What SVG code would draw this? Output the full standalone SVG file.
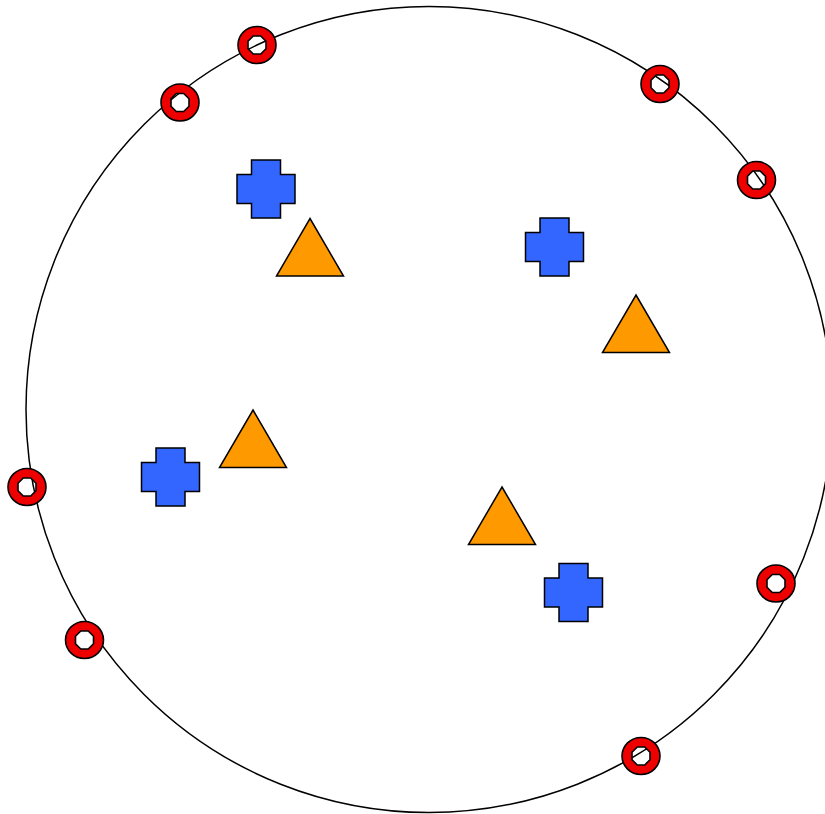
<svg xmlns="http://www.w3.org/2000/svg" width="825" height="814" viewBox="0 0 825 814">
<defs>
<style>
.boundary{fill:none;stroke:#000;stroke-width:1.5}
.cross{fill:#3366ff;stroke:#000;stroke-width:1.5}
.tri{fill:#ff9900;stroke:#000;stroke-width:1.5}
.ring{fill:#ee0000;stroke:#000;stroke-width:1.6;fill-rule:evenodd}
</style>
<path id="crossShape" class="cross" d="M-14.5,-29 H14.5 V-14.5 H29 V14.5 H14.5 V29 H-14.5 V14.5 H-29 V-14.5 H-14.5 Z"/>
<path id="triShape" class="tri" d="M0,0 L33.5,57.5 L-33.5,57.5 Z"/>
<path id="ringShape" class="ring" d="M-19,0 A19,18.5 0 1 0 19,0 A19,18.5 0 1 0 -19,0 Z M-3.7,-9 L3.7,-9 L9,-3.7 L9,3.7 L3.7,9 L-3.7,9 L-9,3.7 L-9,-3.7 Z"/>
</defs>
<rect width="825" height="814" fill="#fff"/>
<g id="connectors">
<circle class="boundary" cx="429" cy="409.5" r="403"/>
</g>
<g id="cross1"><use href="#crossShape" x="266" y="189"/></g>
<g id="cross2"><use href="#crossShape" x="554.5" y="247"/></g>
<g id="cross3"><use href="#crossShape" x="170.5" y="477"/></g>
<g id="cross4"><use href="#crossShape" x="573.5" y="592.5"/></g>
<g id="tri1"><use href="#triShape" x="310" y="218.5"/></g>
<g id="tri2"><use href="#triShape" x="636" y="295"/></g>
<g id="tri3"><use href="#triShape" x="253" y="410"/></g>
<g id="tri4"><use href="#triShape" x="502" y="487"/></g>
<g id="ring1"><use href="#ringShape" x="257" y="45"/></g>
<g id="ring2"><use href="#ringShape" x="180" y="102.5"/></g>
<g id="ring3"><use href="#ringShape" x="660" y="84"/></g>
<g id="ring4"><use href="#ringShape" x="756.5" y="180"/></g>
<g id="ring5"><use href="#ringShape" x="27" y="487"/></g>
<g id="ring6"><use href="#ringShape" x="84.5" y="640"/></g>
<g id="ring7"><use href="#ringShape" x="776" y="583.5"/></g>
<g id="ring8"><use href="#ringShape" x="641" y="756"/></g>
</svg>
